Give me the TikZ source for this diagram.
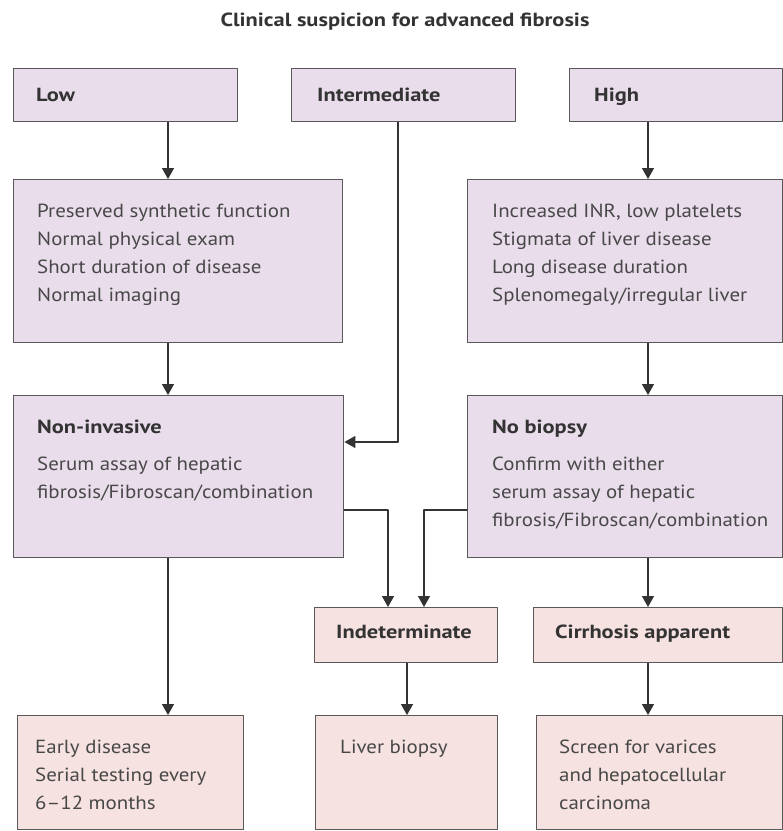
\documentclass[tikz,border=0pt]{standalone}
\usepackage{fontspec}
\setmainfont{PT Sans}[FakeStretch=1.1,BoldFeatures={FakeStretch=1.18}]
\usetikzlibrary{calc}
\usetikzlibrary{arrows.meta}

\definecolor{lavfill}{RGB}{233,221,235}
\definecolor{rosefill}{RGB}{246,226,224}
\definecolor{edgegray}{RGB}{88,88,88}
\definecolor{txtgray}{RGB}{72,72,72}

\newcommand{\bodyfont}{\fontsize{19}{28}\selectfont}

\begin{document}
\begin{tikzpicture}[x=1pt, y=-1pt, line cap = round, line join = round, >={Triangle[width=12pt,length=11pt]}]
\tikzstyle{box}=[draw=edgegray, line width=1.4pt, rectangle, inner sep=0pt, anchor=north west]
\tikzstyle{lavbox}=[box, fill=lavfill]
\tikzstyle{rosebox}=[box, fill=rosefill]
\tikzstyle{txt}=[anchor=base west, align=left, inner sep=0pt, text=txtgray, font=\bodyfont]
\tikzstyle{head}=[txt, text=black!80, font=\bodyfont\bfseries]
\tikzstyle{arr}=[->, line width=1.4pt, draw=black!80]
\useasboundingbox (0,0) rectangle (783,831);

\node[head, anchor=base, font=\fontsize{19}{24}\selectfont\bfseries] (title) at (405,26) {Clinical suspicion for advanced fibrosis};

% suspicion level
\node[lavbox, minimum width=224, minimum height=53] (low) at (13,68) {};
\node[lavbox, minimum width=224, minimum height=53] (inter) at (291,68) {};
\node[lavbox, minimum width=213, minimum height=53] (high) at (569,68) {};
\node[head] (lowt) at ($(low.north west)+(23,33)$) {Low};
\node[head] (intert) at ($(inter.north west)+(26,33)$) {Intermediate};
\node[head] (hight) at ($(high.north west)+(25,33)$) {High};

% clinical signs (anchor = baseline of last line)
\node[lavbox, minimum width=329, minimum height=163] (signlo) at (13,179) {};
\node[lavbox, minimum width=315, minimum height=163] (signhi) at (467,179) {};
\node[txt] (signlot) at ($(signlo.north west)+(24,122)$) {Preserved synthetic function\\Normal physical exam\\Short duration of disease\\Normal imaging};
\node[txt] (signhit) at ($(signhi.north west)+(25,122)$) {Increased INR, low platelets\\Stigmata of liver disease\\Long disease duration\\Splenomegaly/irregular liver};

% tests
\node[lavbox, minimum width=330, minimum height=162] (noninv) at (13,395) {};
\node[lavbox, minimum width=315, minimum height=162] (nobiop) at (467,395) {};
\node[head] (noninvh) at ($(noninv.north west)+(24,38)$) {Non-invasive};
\node[txt] (noninvt) at ($(noninv.north west)+(24,103)$) {Serum assay of hepatic\\fibrosis/Fibroscan/combination};
\node[head] (nobioph) at ($(nobiop.north west)+(25,38)$) {No biopsy};
\node[txt] (nobiopt) at ($(nobiop.north west)+(25,131)$) {Confirm with either\\serum assay of hepatic\\fibrosis/Fibroscan/combination};

% results
\node[rosebox, minimum width=183, minimum height=55] (indet) at (314,607) {};
\node[rosebox, minimum width=249, minimum height=55] (cirr) at (533,607) {};
\node[head] (indett) at ($(indet.north west)+(22,31)$) {Indeterminate};
\node[head] (cirrt) at ($(cirr.north west)+(22,31)$) {Cirrhosis apparent};

% outcomes
\node[rosebox, minimum width=226, minimum height=114] (early) at (17,715) {};
\node[rosebox, minimum width=182, minimum height=114] (biopsy) at (315,715) {};
\node[rosebox, minimum width=246, minimum height=114] (screen) at (536,715) {};
\node[txt] (earlyt) at ($(early.north west)+(18,94)$) {Early disease\\Serial testing every\\6--12 months};
\node[txt] (biopsyt) at ($(biopsy.north west)+(25,38)$) {Liver biopsy};
\node[txt] (screent) at ($(screen.north west)+(23,94)$) {Screen for varices\\and hepatocellular\\carcinoma};

% connector columns
\coordinate (colL) at (168,0);
\coordinate (colR) at (648,0);
\coordinate (colM) at (407,0);
\coordinate (colI) at (398,442);
\coordinate (joinL) at (388,510);
\coordinate (joinR) at (424,510);

\draw[arr] (low.south -| colL) -- (signlo.north -| colL);
\draw[arr] (high.south -| colR) -- (signhi.north -| colR);
\draw[arr] (signlo.south -| colL) -- (noninv.north -| colL);
\draw[arr] (signhi.south -| colR) -- (nobiop.north -| colR);
\draw[arr] (inter.south -| colI) -- (colI) -- (noninv.east |- colI);
\draw[arr] (noninv.east |- joinL) -- (joinL) -- (indet.north -| joinL);
\draw[arr] (nobiop.west |- joinR) -- (joinR) -- (indet.north -| joinR);
\draw[arr] (nobiop.south -| colR) -- (cirr.north -| colR);
\draw[arr] (noninv.south -| colL) -- (early.north -| colL);
\draw[arr] (indet.south -| colM) -- (biopsy.north -| colM);
\draw[arr] (cirr.south -| colR) -- (screen.north -| colR);
\end{tikzpicture}
\end{document}
